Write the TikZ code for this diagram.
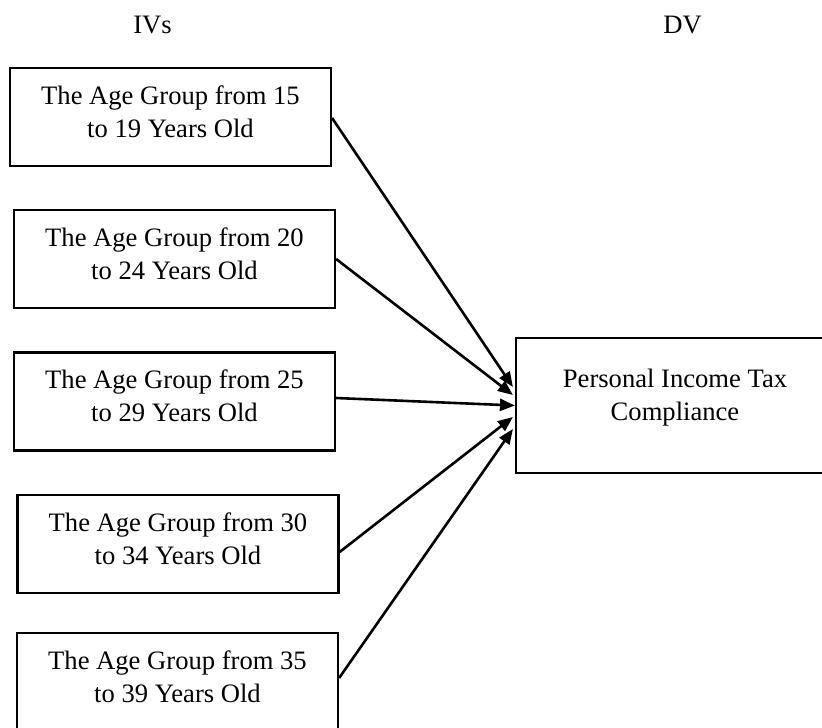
\documentclass[tikz,border=0pt]{standalone}
\usepackage{fontspec}
\setmainfont{Liberation Serif}
\usetikzlibrary{arrows.meta,calc}
\begin{document}
\begin{tikzpicture}[x=0.5pt,y=-0.5pt,
  ivbox/.style={draw,line width=1.1pt,minimum width=160.5pt,minimum height=49pt,inner sep=0pt},
  dvbox/.style={draw,line width=1.1pt,minimum width=159pt,minimum height=67.5pt,inner sep=0pt},
  boxtext/.style={align=center,inner sep=0pt,font=\fontsize{13.3}{16.4}\selectfont},
  head/.style={inner sep=0pt,anchor=base,font=\fontsize{13.3}{16.4}\selectfont},
  link/.style={line width=1.3pt,-{Triangle[length=7.5pt,width=6pt]}}]
\useasboundingbox (0,0) rectangle (822,727);
\node[head] (iv) at (152.5,34) {IVs};
\node[head] (dv) at (682.5,34) {DV};
\node[ivbox] (b1) at (170.5,117) {};
\node[ivbox] (b2) at (174.5,259) {};
\node[ivbox] (b3) at (174.5,401.4) {};
\node[ivbox] (b4) at (178,544) {};
\node[ivbox] (b5) at (177.5,682) {};
\node[boxtext] (t1) at ($(b1.center)+(0,-5.6)$) {The Age Group from 15\\to 19 Years Old};
\node[boxtext] (t2) at ($(b2.center)+(0,-5.6)$) {The Age Group from 20\\to 24 Years Old};
\node[boxtext] (t3) at ($(b3.center)+(0,-5.6)$) {The Age Group from 25\\to 29 Years Old};
\node[boxtext] (t4) at ($(b4.center)+(0,-5.6)$) {The Age Group from 30\\to 34 Years Old};
\node[boxtext] (t5) at ($(b5.center)+(0,-5.6)$) {The Age Group from 35\\to 39 Years Old};
\node[dvbox] (d) at (675,405.5) {};
\node[boxtext] (td) at ($(d.center)+(0,-7.7)$) {Personal Income Tax\\Compliance};
\draw[link] ($(b1.east)+(0,1)$) -- ($(d.west)+(-2,-18.5)$);
\draw[link] (b2.east) -- ($(d.west)+(-2,-10.5)$);
\draw[link] ($(b3.east)+(0,-3.4)$) -- (d.west);
\draw[link] ($(b4.east)+(0,8)$) -- ($(d.west)+(-2,11.5)$);
\draw[link] ($(b5.east)+(0,-4)$) -- ($(d.west)+(-2,23.5)$);
\end{tikzpicture}
\end{document}
